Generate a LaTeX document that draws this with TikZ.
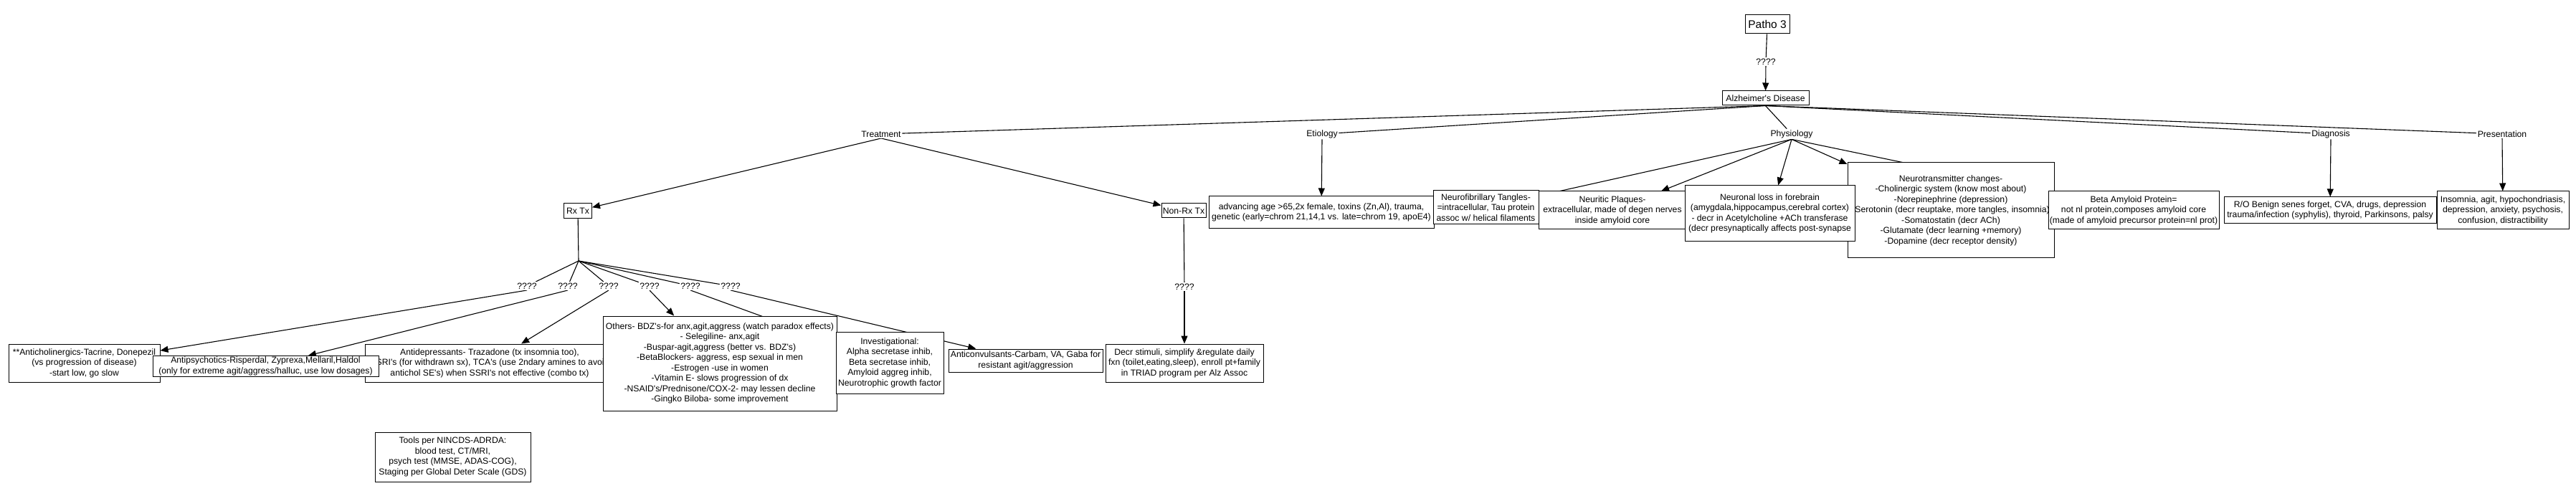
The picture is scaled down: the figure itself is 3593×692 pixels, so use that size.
\documentclass[tikz,border=0pt]{standalone}
\usepackage{fontspec}
\setmainfont{Liberation Sans}
\usetikzlibrary{arrows.meta,backgrounds}

\newcommand{\sq}{\textquotesingle}
\newcommand{\wideline}[1]{\makebox[0pt]{#1}}

\tikzset{
  cbox/.style={draw=black,fill=white,line width=1pt,align=center,inner sep=1.5pt,
    font=\fontsize{12.2}{14.5}\selectfont},
  lbl/.style={fill=white,inner sep=1.5pt,font=\fontsize{12.2}{14.5}\selectfont},
  link/.style={line width=1.1pt},
  arr/.style={link,-{Triangle[length=11pt,width=9pt]}},
}

\begin{document}
\begin{tikzpicture}[x=1pt,y=-1pt]
  \useasboundingbox (0,0) rectangle (3593,692);

  % ---- Top -------------------------------------------------------
  \node[cbox,font=\fontsize{15.5}{18}\selectfont,minimum width=62pt,minimum height=26pt]
    (patho) at (2465,34) {Patho 3};
  \node[lbl] (q0) at (2463,86) {????};
  \node[cbox,minimum width=121pt,minimum height=20pt]
    (alz) at (2462.5,137) {Alzheimer\sq s Disease};

  % ---- Branch labels --------------------------------------------
  \node[lbl] (treat) at (1229,187) {Treatment};
  \node[lbl] (etio)  at (1844,187) {Etiology};
  \node[lbl] (phys)  at (2499,187) {Physiology};
  \node[lbl] (diag)  at (3251,187) {Diagnosis};
  \node[lbl] (pres)  at (3490,187) {Presentation};

  % ---- Treatment ------------------------------------------------
  \node[cbox,minimum width=39pt,minimum height=21pt] (rx) at (806,294) {Rx Tx};
  \node[cbox,minimum width=62pt,minimum height=20pt] (nonrx) at (1651,294) {Non-Rx Tx};
  \coordinate (rxj) at (807,364);
  \foreach \i/\x in {1/735,2/792,3/849,4/906,5/963,6/1019}
    \node[lbl] (q\i) at (\x,399) {????};
  \node[lbl] (q7) at (1652,400) {????};

  \node[cbox,minimum width=211pt,minimum height=53pt] (anticho) at (117.5,506.5)
    {\wideline{**Anticholinergics-Tacrine, Donepezil}\\(vs progression of disease)\\-start low, go slow};
  \node[cbox,minimum width=348pt,minimum height=53pt] (antidep) at (683,506.5)
    {Antidepressants- Trazadone (tx insomnia too),\\
     \wideline{SSRI\sq s (for withdrawn sx), TCA\sq s (use 2ndary amines to avoid}\\
     antichol SE\sq s) when SSRI\sq s not effective (combo tx)};
  \node[cbox,minimum width=315pt,minimum height=28pt] (antipsy) at (370.5,511)
    {Antipsychotics-Risperdal, Zyprexa,Mellaril,Haldol\\
     (only for extreme agit/aggress/halluc, use low dosages)};
  \node[cbox,minimum width=326pt,minimum height=132pt] (others) at (1004,507)
    {Others- BDZ\sq s-for anx,agit,aggress (watch paradox effects)\\
     - Selegiline- anx,agit\\
     -Buspar-agit,aggress (better vs. BDZ\sq s)\\
     -BetaBlockers- aggress, esp sexual in men\\
     -Estrogen -use in women\\
     -Vitamin E- slows progression of dx\\
     -NSAID\sq s/Prednisone/COX-2- may lessen decline\\
     -Gingko Biloba- some improvement};
  \node[cbox,minimum width=150pt,minimum height=86pt] (invest) at (1241,506)
    {Investigational:\\Alpha secretase inhib,\\Beta secretase inhib,\\Amyloid aggreg inhib,\\Neurotrophic growth factor};
  \node[cbox,minimum width=215pt,minimum height=32pt] (anticonv) at (1430.5,503)
    {Anticonvulsants-Carbam, VA, Gaba for\\resistant agit/aggression};
  \node[cbox,minimum width=220pt,minimum height=53pt] (decr) at (1652,506.5)
    {Decr stimuli, simplify \&regulate daily\\fxn (toilet,eating,sleep), enroll pt+family\\in TRIAD program per Alz Assoc};
  \node[cbox,minimum width=217pt,minimum height=69pt] (tools) at (631.5,637.5)
    {Tools per NINCDS-ADRDA:\\blood test, CT/MRI,\\psych test (MMSE, ADAS-COG),\\Staging per Global Deter Scale (GDS)};

  % ---- Etiology / Physiology ------------------------------------
  \node[cbox,minimum width=314pt,minimum height=45pt] (adv) at (1843,296.5)
    {advancing age >65,2x female, toxins (Zn,Al), trauma,\\
     genetic (early=chrom 21,14,1 vs. late=chrom 19, apoE4)};
  \node[cbox,minimum width=147pt,minimum height=47pt] (neurofib) at (2072.5,289.5)
    {Neurofibrillary Tangles-\\=intracellular, Tau protein\\assoc w/ helical filaments};
  \node[cbox,minimum width=206pt,minimum height=53pt] (neuritic) at (2249,293.5)
    {Neuritic Plaques-\\extracellular, made of degen nerves\\inside amyloid core};
  \node[cbox,minimum width=288pt,minimum height=133pt] (ntrans) at (2721,293.5)
    {Neurotransmitter changes-\\
     -Cholinergic system (know most about)\\
     -Norepinephrine (depression)\\
     \wideline{-Serotonin (decr reuptake, more tangles, insomnia)}\\
     -Somatostatin (decr ACh)\\
     -Glutamate (decr learning +memory)\\
     -Dopamine (decr receptor density)};
  \node[cbox,minimum width=237pt,minimum height=78pt] (neuronal) at (2468.5,298)
    {Neuronal loss in forebrain\\
     \wideline{(amygdala,hippocampus,cerebral cortex)}\\
     - decr in Acetylcholine +ACh transferase\\
     \wideline{(decr presynaptically affects post-synapse}};
  \node[cbox,minimum width=238pt,minimum height=53pt] (beta) at (2976,293.5)
    {Beta Amyloid Protein=\\not nl protein,composes amyloid core\\(made of amyloid precursor protein=nl prot)};

  % ---- Diagnosis / Presentation ---------------------------------
  \node[cbox,minimum width=296pt,minimum height=37pt] (ro) at (3250,293.5)
    {R/O Benign senes forget, CVA, drugs, depression\\
     trauma/infection (syphylis), thyroid, Parkinsons, palsy};
  \node[cbox,minimum width=184pt,minimum height=53pt] (insom) at (3491,293.5)
    {Insomnia, agit, hypochondriasis,\\depression, anxiety, psychosis,\\confusion, distractibility};

  % ---- Connectors (behind the boxes) ----------------------------
  \begin{scope}[on background layer]
    \fill[white] (0,0) rectangle (3593,692);
    \draw[link] (patho) -- (q0);
    \draw[arr]  (q0) -- (alz);
    \foreach \t in {treat,etio,phys,diag,pres}
      \draw[link] (alz.south) -- (\t);
    \draw[arr] (treat.south) -- (rx);
    \draw[arr] (treat.south) -- (nonrx);
    \draw[link] (rx) -- (rxj);
    \foreach \i/\b in {1/anticho,2/antipsy,3/antidep,4/others,5/invest,6/anticonv} {
      \draw[link] (rxj) -- (q\i);
      \draw[arr]  (q\i.south) -- (\b);
    }
    \draw[link] (nonrx) -- (q7);
    \draw[arr]  (q7) -- (decr);
    \draw[arr]  (etio.south) -- (adv);
    \foreach \b in {neurofib,neuritic,neuronal,ntrans,beta}
      \draw[arr] (phys.south) -- (\b);
    \draw[arr] (diag.south) -- (ro);
    \draw[arr] (pres.south) -- (insom);
  \end{scope}
\end{tikzpicture}
\end{document}
